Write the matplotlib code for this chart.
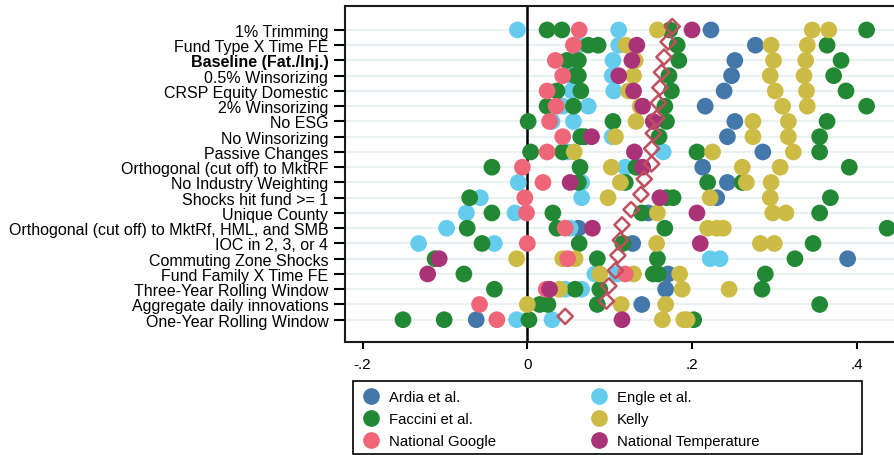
""" Robustness dot plot: coefficients by specification and climate-news measure """
import matplotlib.pyplot as plt
from matplotlib.lines import Line2D
from matplotlib.patches import Rectangle

plt.rcParams['font.family'] = ['Liberation Sans', 'DejaVu Sans']

specs = ['1% Trimming', 'Fund Type X Time FE', 'Baseline (Fat./Inj.)',
         '0.5% Winsorizing', 'CRSP Equity Domestic', '2% Winsorizing',
         'No ESG', 'No Winsorizing', 'Passive Changes',
         'Orthogonal (cut off) to MktRF', 'No Industry Weighting',
         'Shocks hit fund >= 1', 'Unique County',
         'Orthogonal (cut off) to MktRf, HML, and SMB', 'IOC in 2, 3, or 4',
         'Commuting Zone Shocks', 'Fund Family X Time FE',
         'Three-Year Rolling Window', 'Aggregate daily innovations',
         'One-Year Rolling Window']

# coefficient estimates per specification (one list per row, top to bottom)
ardia = [[0.223], [0.277], [0.252], [0.248], [0.239], [0.216], [0.252],
         [0.243], [0.286], [0.213], [0.243], [0.230], [0.147], [0.062],
         [0.128], [0.389], [0.171], [0.168], [0.139], [-0.062]]
engle = [[-0.012, 0.111], [0.062, 0.111], [0.054, 0.104], [0.052, 0.103],
         [0.054, 0.105], [0.043, 0.074], [0.030, 0.056], [0.065, 0.103],
         [0.049, 0.165], [0.119, 0.134], [-0.011, 0.066], [-0.057, 0.066],
         [-0.074, -0.015], [-0.098, 0.052], [-0.132, -0.040], [0.222, 0.234],
         [0.082, 0.109], [0.046, 0.066], [], [-0.013, 0.030]]
faccini = [[0.024, 0.042, 0.173, 0.412], [0.074, 0.086, 0.182, 0.364],
           [0.048, 0.062, 0.184, 0.381], [0.058, 0.062, 0.172, 0.372],
           [0.036, 0.065, 0.175, 0.387], [0.024, 0.056, 0.167, 0.412],
           [0.001, 0.104, 0.169, 0.364], [0.065, 0.070, 0.160, 0.355],
           [0.004, 0.043, 0.206, 0.355], [-0.043, 0.064, 0.132, 0.391],
           [0.062, 0.119, 0.219, 0.261], [-0.070, 0.169, 0.177, 0.368],
           [-0.043, 0.031, 0.139, 0.355], [-0.073, 0.036, 0.167, 0.437],
           [-0.055, 0.063, 0.116, 0.347], [-0.112, 0.085, 0.158, 0.325],
           [-0.077, 0.153, 0.159, 0.289], [-0.040, 0.058, 0.088, 0.285],
           [0.015, 0.025, 0.085, 0.355], [-0.151, -0.101, 0.002, 0.202]]
kelly = [[0.158, 0.346, 0.366], [0.120, 0.296, 0.340], [0.131, 0.299, 0.338],
         [0.129, 0.295, 0.336], [0.123, 0.301, 0.339], [0.137, 0.310, 0.340],
         [0.132, 0.274, 0.317], [0.107, 0.274, 0.317], [0.057, 0.225, 0.323],
         [0.102, 0.261, 0.307], [0.113, 0.266, 0.296], [0.098, 0.222, 0.295],
         [0.158, 0.298, 0.314], [0.219, 0.230, 0.238], [0.157, 0.283, 0.300],
         [-0.013, 0.043, 0.058], [0.088, 0.129, 0.185], [0.039, 0.188, 0.245],
         [0.000, 0.114, 0.168], [0.164, 0.190, 0.194]]
google = [[0.063], [0.056], [0.034], [0.043], [0.024], [0.035], [0.027],
          [0.043], [0.024], [-0.006], [0.019], [-0.003], [-0.001], [0.046],
          [0.000], [0.049], [0.119], [0.023], [-0.058], [-0.037]]
temperature = [[0.200], [0.133], [0.127], [0.111], [0.129], [0.140], [0.153],
               [0.078], [0.130], [0.140], [0.052], [0.161], [0.206], [0.079],
               [0.210], [-0.107], [-0.121], [0.027], [], [0.115]]
row_mean = [0.176, 0.171, 0.166, 0.163, 0.161, 0.159, 0.157, 0.153, 0.151,
            0.151, 0.142, 0.138, 0.126, 0.115, 0.113, 0.110, 0.107, 0.099,
            0.096, 0.046]

series = [('Ardia et al.', ardia, '#4477AA'),
          ('Engle et al.', engle, '#66CCEE'),
          ('Faccini et al.', faccini, '#228833'),
          ('Kelly', kelly, '#CCBB44'),
          ('National Google', google, '#EE6677'),
          ('National Temperature', temperature, '#AA3377')]

fig = plt.figure(figsize=(8.95, 4.56), dpi=100)
ax = fig.add_axes([345 / 895, 1 - 343 / 456, 1 - 345 / 895, 336 / 456])

# light horizontal guide per row
for i in range(len(specs)):
    ax.axhline(i, color='#e9f1f3', lw=1.6, zorder=0)
ax.axvline(0, color='black', lw=1.8, zorder=1)

for name, data, col in series:
    xs, ys = [], []
    for i, vals in enumerate(data):
        xs += vals
        ys += [i] * len(vals)
    ax.scatter(xs, ys, s=145, color=col, edgecolors='none', zorder=3)

# mean per row drawn as hollow diamond, sits a little above the row
ax.scatter(row_mean, [i - 0.22 for i in range(len(specs))], marker='D', s=60,
           facecolors='none', edgecolors='#bf4f5e', linewidths=1.8, zorder=4)

ax.set_xlim(-0.2214, 0.4465)
ax.set_ylim(19 + 1.46, -1.57)
ax.set_xticks([-0.2, 0, 0.2, 0.4])
ax.set_xticklabels(['-.2', '0', '.2', '.4'], fontsize=11)
ax.set_yticks(range(len(specs)))
ax.set_yticklabels(specs, fontsize=11.5)
ax.get_yticklabels()[2].set_fontweight('bold')
ax.tick_params(axis='y', length=8, width=1.5, pad=4)
ax.tick_params(axis='x', length=5, width=1.5, pad=6)
for sp in ['left', 'top', 'bottom']:
    ax.spines[sp].set_linewidth(1.5)
    ax.spines[sp].set_color('#1a1a1a')
ax.spines['right'].set_visible(False)

# legend: two columns placed separately, one frame around both
fig.add_artist(Rectangle((353 / 895, 1 - 455 / 456), 509 / 895, 73 / 456,
                         transform=fig.transFigure, fill=False,
                         edgecolor='black', lw=1.2))
for cols, x0 in [([0, 2, 4], 362), ([1, 3, 5], 590)]:
    hs = [Line2D([], [], marker='o', ls='', ms=11, color=series[k][2]) for k in cols]
    fig.legend(hs, [series[k][0] for k in cols], loc='upper left',
               bbox_to_anchor=(x0 / 895, 1 - 391 / 456), fontsize=10.7,
               frameon=False, borderpad=0, borderaxespad=0, labelspacing=0.55,
               handletextpad=0.6, handlelength=1.2)

plt.savefig('out.png', dpi=100)
